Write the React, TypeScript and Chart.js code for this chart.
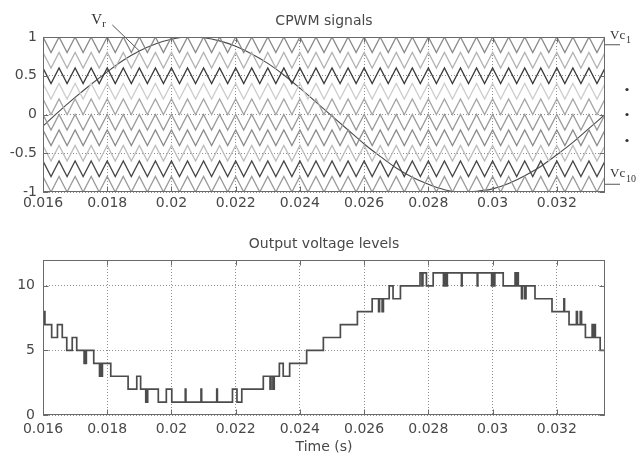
import React, { useEffect, useRef } from 'react';
import { Chart, registerables } from 'chart.js';

Chart.register(...registerables);

// ---------- data ----------
const xTickValues = [0.016, 0.018, 0.02, 0.022, 0.024, 0.026, 0.028, 0.03, 0.032];
const cpwmYTicks = [-1, -0.5, 0, 0.5, 1];
const levelYTicks = [0, 5, 10];

const carrierVertexTimes = [
  0.016, 0.01625, 0.0165, 0.01675, 0.017, 0.01725, 0.0175, 0.01775, 0.018, 0.01825,
  0.0185, 0.01875, 0.019, 0.01925, 0.0195, 0.01975, 0.02, 0.02025, 0.0205, 0.02075,
  0.021, 0.02125, 0.0215, 0.02175, 0.022, 0.02225, 0.0225, 0.02275, 0.023, 0.02325,
  0.0235, 0.02375, 0.024, 0.02425, 0.0245, 0.02475, 0.025, 0.02525, 0.0255, 0.02575,
  0.026, 0.02625, 0.0265, 0.02675, 0.027, 0.02725, 0.0275, 0.02775, 0.028, 0.02825,
  0.0285, 0.02875, 0.029, 0.02925, 0.0295, 0.02975, 0.03, 0.03025, 0.0305, 0.03075,
  0.031, 0.03125, 0.0315, 0.03175, 0.032, 0.03225, 0.0325, 0.03275, 0.033, 0.03325,
  0.0335,
];
const carrierTops = [1, 0.8, 0.6, 0.4, 0.2, 0, -0.2, -0.4, -0.6, -0.8];
const carrierBottoms = [0.8, 0.6, 0.4, 0.2, 0, -0.2, -0.4, -0.6, -0.8, -1];

const sineTimes = [
  0.016, 0.0165, 0.017, 0.0175, 0.018, 0.0185, 0.019, 0.0195, 0.02, 0.0205,
  0.021, 0.0215, 0.022, 0.0225, 0.023, 0.0235, 0.024, 0.0245, 0.025, 0.0255,
  0.026, 0.0265, 0.027, 0.0275, 0.028, 0.0285, 0.029, 0.0295, 0.03, 0.0305,
  0.031, 0.0315, 0.032, 0.0325, 0.033, 0.0335,
];
const sineValues = [
  -0.15, 0.04, 0.22, 0.39, 0.55, 0.7, 0.82, 0.91, 0.97, 1.0,
  0.99, 0.95, 0.88, 0.78, 0.66, 0.51, 0.34, 0.16, -0.02, -0.2,
  -0.38, -0.54, -0.69, -0.81, -0.9, -0.97, -1.0, -0.99, -0.96, -0.89,
  -0.79, -0.67, -0.52, -0.36, -0.18, 0.0,
];

const outTimes = [
  0.016, 0.01602, 0.01604, 0.01606, 0.01627, 0.01645, 0.0166, 0.01674, 0.01691, 0.01705,
  0.01728, 0.0173, 0.01733, 0.01735, 0.01758, 0.01776, 0.01778, 0.01782, 0.01785, 0.01811,
  0.01865, 0.01892, 0.01904, 0.0192, 0.01922, 0.01924, 0.01926, 0.01959, 0.01984, 0.02001,
  0.02043, 0.02045, 0.02092, 0.02094, 0.02141, 0.02143, 0.0219, 0.02204, 0.02219, 0.02286,
  0.02307, 0.0231, 0.02316, 0.0232, 0.02336, 0.02348, 0.02368, 0.02421, 0.02473, 0.02526,
  0.02579, 0.02625, 0.02645, 0.02648, 0.02656, 0.0266, 0.02678, 0.0269, 0.02713, 0.02774,
  0.0278, 0.02783, 0.02794, 0.02815, 0.02847, 0.0285, 0.02855, 0.02859, 0.02903, 0.02905,
  0.02952, 0.02954, 0.02997, 0.03, 0.03004, 0.03007, 0.03033, 0.0307, 0.03073, 0.03077,
  0.0308, 0.0309, 0.03093, 0.031, 0.03104, 0.03132, 0.03185, 0.03222, 0.03224, 0.03238,
  0.03261, 0.03264, 0.03273, 0.03277, 0.03289, 0.0331, 0.03313, 0.03317, 0.0332, 0.03335,
  0.0335,
];
const outLevels = [
  8, 7, 8, 7, 6, 7, 6, 5, 6, 5,
  4, 5, 4, 5, 4, 3, 4, 3, 4, 3,
  2, 3, 2, 1, 2, 1, 2, 1, 2, 1,
  2, 1, 2, 1, 2, 1, 2, 1, 2, 3,
  2, 3, 2, 3, 4, 3, 4, 5, 6, 7,
  8, 9, 8, 9, 8, 9, 10, 9, 10, 11,
  10, 11, 10, 11, 10, 11, 10, 11, 10, 11,
  10, 11, 10, 11, 10, 11, 10, 11, 10, 11,
  10, 9, 10, 9, 10, 9, 8, 9, 8, 7,
  8, 7, 8, 7, 6, 7, 6, 7, 6, 5,
  5,
];

// ---------- styles ----------
const carrierColors = [
  '#8a8a8a', '#b3b3b3', '#3c3c3c', '#cdcdcd', '#a6a6a6',
  '#9a9a9a', '#8c8c8c', '#bcbcbc', '#484848', '#9a9a9a',
];
const FONT = '"DejaVu Sans", "Liberation Sans", Arial, sans-serif';
const SERIF = '"Liberation Serif", "DejaVu Serif", serif';
const TEXT = '#484848';

const fmt = (v: number) => parseFloat(Number(v).toFixed(4)).toString();

type Deco = { title: string; cpwm: boolean };

const decoPlugin = (d: Deco) => ({
  id: 'deco',
  afterDraw(chart: any) {
    const { ctx, chartArea: a } = chart;
    const xs = chart.scales.x;
    const ys = chart.scales.y;
    const L = Math.round(a.left) + 0.5;
    const R = Math.round(a.right) - 0.5;
    const T = Math.round(a.top) + 0.5;
    const B = Math.round(a.bottom) - 0.5;
    ctx.save();
    ctx.strokeStyle = '#6a6a6a';
    ctx.lineWidth = 1;
    ctx.strokeRect(L, T, R - L, B - T);
    // inward tick marks
    ctx.beginPath();
    xs.ticks.forEach((t: any) => {
      const px = Math.round(xs.getPixelForValue(t.value)) + 0.5;
      ctx.moveTo(px, B); ctx.lineTo(px, B - 5);
      ctx.moveTo(px, T); ctx.lineTo(px, T + 5);
    });
    ys.ticks.forEach((t: any) => {
      const py = Math.round(ys.getPixelForValue(t.value)) + 0.5;
      ctx.moveTo(L, py); ctx.lineTo(L + 5, py);
      ctx.moveTo(R, py); ctx.lineTo(R - 5, py);
    });
    ctx.stroke();
    // title
    ctx.fillStyle = TEXT;
    ctx.font = `14px ${FONT}`;
    ctx.textAlign = 'center';
    ctx.textBaseline = 'alphabetic';
    ctx.fillText(d.title, (a.left + a.right) / 2, a.top - 12);

    if (d.cpwm) {
      ctx.strokeStyle = '#555';
      ctx.fillStyle = '#333';
      // Vr label + pointer
      const tipX = xs.getPixelForValue(0.019);
      const tipY = ys.getPixelForValue(0.82);
      ctx.beginPath();
      ctx.moveTo(tipX - 27, tipY - 26);
      ctx.lineTo(tipX, tipY);
      ctx.stroke();
      ctx.textAlign = 'left';
      ctx.font = `15px ${SERIF}`;
      ctx.fillText('V', tipX - 48, tipY - 27);
      ctx.font = `11px ${SERIF}`;
      ctx.fillText('r', tipX - 37, tipY - 24);
      // Vc1 / Vc10 labels
      const y1 = ys.getPixelForValue(0.9);
      const y10 = ys.getPixelForValue(-0.9);
      const yMid = ys.getPixelForValue(0);
      ctx.beginPath();
      ctx.moveTo(a.right, y1); ctx.lineTo(a.right + 15, y1);
      ctx.moveTo(a.right, y10); ctx.lineTo(a.right + 15, y10);
      ctx.stroke();
      ctx.font = `13px ${SERIF}`;
      ctx.fillText('Vc', a.right + 5, y1 - 6);
      ctx.fillText('Vc', a.right + 5, y10 - 7);
      ctx.font = `10px ${SERIF}`;
      ctx.fillText('1', a.right + 21, y1 - 2);
      ctx.fillText('10', a.right + 21, y10 - 2);
      // vertical ellipsis dots
      [-25, 0, 26].forEach((dy) => {
        ctx.beginPath();
        ctx.arc(a.right + 22, yMid + dy, 1.6, 0, Math.PI * 2);
        ctx.fill();
      });
    }
    ctx.restore();
  },
});

const axisX = (padding: number, title?: string, height?: number) => ({
  type: 'linear',
  min: 0.016,
  max: 0.0335,
  afterBuildTicks: (s: any) => { s.ticks = xTickValues.map((v) => ({ value: v })); },
  afterFit: (s: any) => { s.height = height; },
  ticks: {
    callback: (v: any) => fmt(v),
    font: { family: FONT, size: 14 },
    color: TEXT,
    padding,
    maxRotation: 0,
    autoSkip: false,
  },
  grid: { color: '#8f8f8f', lineWidth: 1, drawTicks: false },
  border: { display: false, dash: [1, 2] },
  title: title
    ? { display: true, text: title, color: TEXT, font: { family: FONT, size: 14 }, padding: { top: 0, bottom: 2 } }
    : { display: false },
});

const axisY = (min: number, max: number, tickVals: number[], padding: number) => ({
  type: 'linear',
  min,
  max,
  afterBuildTicks: (s: any) => { s.ticks = tickVals.map((v) => ({ value: v })); },
  afterFit: (s: any) => { s.width = 43; },
  ticks: {
    callback: (v: any) => fmt(v),
    font: { family: FONT, size: 14 },
    color: TEXT,
    padding,
  },
  grid: { color: '#8f8f8f', lineWidth: 1, drawTicks: false },
  border: { display: false, dash: [1, 2] },
});

function CpwmChart() {
  const ref = useRef<HTMLCanvasElement>(null);
  useEffect(() => {
    if (!ref.current) return;
    const carriers = carrierTops.map((top, i) => ({
      label: `vc${i + 1}`,
      data: carrierVertexTimes.map((t, k) => ({ x: t, y: k % 2 === 0 ? top : carrierBottoms[i] })),
      borderColor: carrierColors[i],
      borderWidth: 1.3,
      pointRadius: 0,
      tension: 0,
    }));
    const chart = new Chart(ref.current, {
      type: 'line',
      data: {
        datasets: [
          ...carriers,
          {
            label: 'vr',
            data: sineTimes.map((t, k) => ({ x: t, y: sineValues[k] })),
            borderColor: '#4a4a4a',
            borderWidth: 1.1,
            pointRadius: 0,
            cubicInterpolationMode: 'monotone',
          },
        ],
      } as any,
      options: {
        animation: false,
        responsive: false,
        maintainAspectRatio: false,
        devicePixelRatio: 1,
        layout: { padding: { top: 37, right: 38, left: 0, bottom: 0 } },
        plugins: { legend: { display: false }, tooltip: { enabled: false }, title: { display: false } },
        scales: {
          x: axisX(3, undefined, 30),
          y: axisY(-1, 1, cpwmYTicks, 6),
        },
      } as any,
      plugins: [decoPlugin({ title: 'CPWM signals', cpwm: true })],
    });
    return () => chart.destroy();
  }, []);
  return (
    <canvas
      ref={ref}
      width={643}
      height={222}
      style={{ position: 'absolute', left: 0, top: 0, width: 643, height: 222 }}
    />
  );
}

function LevelChart() {
  const ref = useRef<HTMLCanvasElement>(null);
  useEffect(() => {
    if (!ref.current) return;
    const chart = new Chart(ref.current, {
      type: 'line',
      data: {
        datasets: [
          {
            label: 'output',
            data: outTimes.map((t, k) => ({ x: t, y: outLevels[k] })),
            borderColor: '#4c4c4c',
            borderWidth: 1.7,
            pointRadius: 0,
            stepped: 'before',
          },
        ],
      } as any,
      options: {
        animation: false,
        responsive: false,
        maintainAspectRatio: false,
        devicePixelRatio: 1,
        layout: { padding: { top: 38, right: 38, left: 0, bottom: 0 } },
        plugins: { legend: { display: false }, tooltip: { enabled: false }, title: { display: false } },
        scales: {
          x: axisX(6, 'Time (s)', 43),
          y: axisY(0, 12, levelYTicks, 8),
        },
      } as any,
      plugins: [decoPlugin({ title: 'Output voltage levels', cpwm: false })],
    });
    return () => chart.destroy();
  }, []);
  return (
    <canvas
      ref={ref}
      width={643}
      height={236}
      style={{ position: 'absolute', left: 0, top: 222, width: 643, height: 236 }}
    />
  );
}

export default function App() {
  return (
    <div style={{ position: 'absolute', left: 0, top: 0, width: 643, height: 458, background: '#fff' }}>
      <CpwmChart />
      <LevelChart />
    </div>
  );
}
